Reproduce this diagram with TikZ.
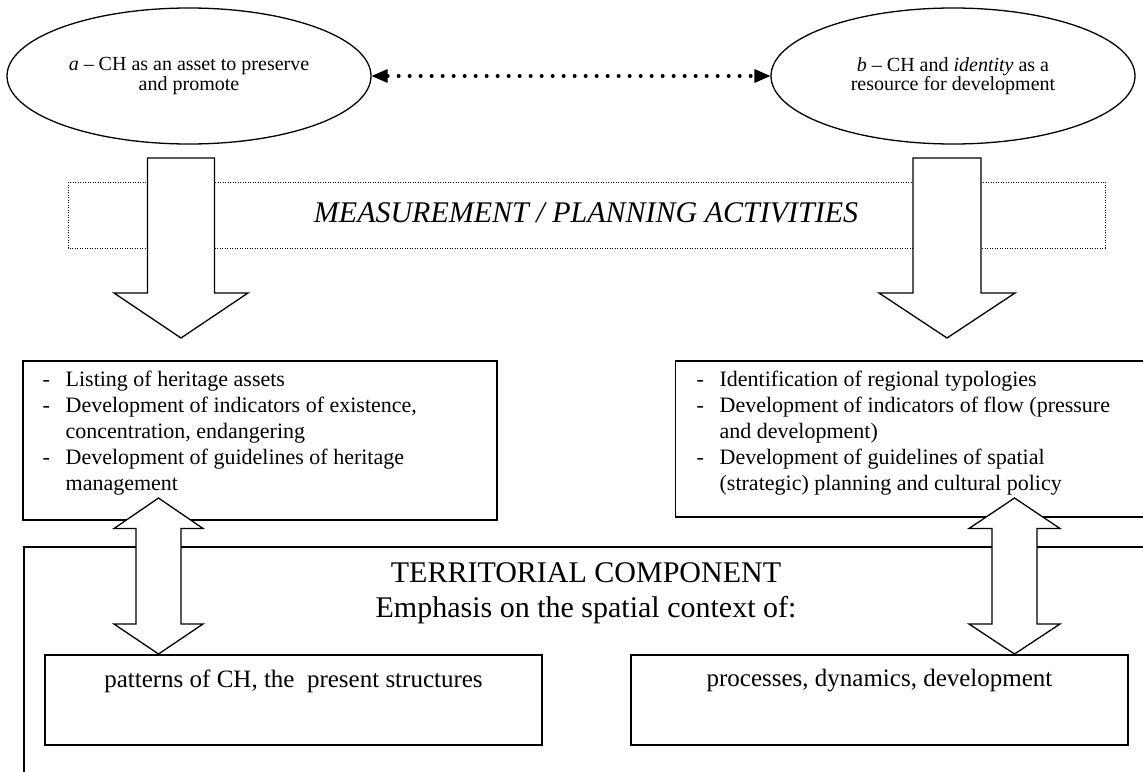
\documentclass[tikz,border=0pt]{standalone}
\usepackage{fontspec}
\setmainfont{Liberation Serif}
\usetikzlibrary{arrows.meta,shapes.geometric}
\begin{document}
\begin{tikzpicture}[x=1pt,y=-1pt,line width=1.3pt,
  oval/.style={draw,ellipse,minimum width=364pt,minimum height=136pt,inner sep=0pt,align=center,font=\fontsize{20}{18}\selectfont},
  bigarrow/.style={draw,fill=white,line width=1.3pt,line join=miter},
  listtext/.style={anchor=north west,inner sep=0pt,font=\fontsize{22}{26}\selectfont},
  boxtext/.style={inner sep=0pt,font=\fontsize{25}{28}\selectfont},
  dotlink/.style={line width=4pt,dash pattern=on 0pt off 11pt,line cap=round,
    {Triangle[length=16pt,width=14pt,line width=0pt]}-{Triangle[length=16pt,width=14pt,line width=0pt]}}
]
\useasboundingbox (0,0) rectangle (1143,771);
\fill[white] (0,0) rectangle (1143,771);

% ellipses
\node[oval] (ea) at (189,76) {\textit{a} -- CH as an asset to preserve\\and promote};
\node[oval] (eb) at (953,76) {\textit{b} -- CH and \textit{identity} as a\\resource for development};
\draw[dotlink] (ea.east) -- (eb.west);

% dotted band
\draw[line width=0.8pt,dash pattern=on 1pt off 1.5pt] (68,182) rectangle (1105,248);
\node[inner sep=0pt,font=\fontsize{30}{34}\selectfont\itshape] (meas) at (586,213) {MEASUREMENT / PLANNING ACTIVITIES};

% down arrows
\draw[bigarrow] (147.5,158) -- (214.5,158) -- (214.5,293) -- (248,293) -- (181,338) -- (114,293) -- (147.5,293) -- cycle;
\draw[bigarrow] (913,158) -- (981,158) -- (981,293) -- (1015,293) -- (947,338) -- (879,293) -- (913,293) -- cycle;

% list boxes
\draw (23,361) rectangle (497,520);
\node[listtext] (lt) at (42,368) {\begin{tabular}{@{}p{23pt}@{}l@{}}
- & Listing of heritage assets\\
- & Development of indicators of existence,\\
  & concentration, endangering\\
- & Development of guidelines of heritage\\
  & management
\end{tabular}};
\draw (1150,361) -- (675.5,361) -- (675.5,517) -- (1150,517);
\node[listtext] (rt) at (696,368) {\begin{tabular}{@{}p{23pt}@{}l@{}}
- & Identification of regional typologies\\
- & Development of indicators of flow (pressure\\
  & and development)\\
- & Development of guidelines of spatial\\
  & (strategic) planning and cultural policy
\end{tabular}};

% territorial component
\draw (24,775) -- (24,547) -- (1150,547);
\node[inner sep=0pt,align=center,font=\fontsize{30}{35}\selectfont] (terr) at (586,593) {TERRITORIAL COMPONENT\\Emphasis on the spatial context of:};

% bottom boxes
\draw (45,655) rectangle (542,745);
\node[boxtext] (bl) at (293.5,681) {patterns of CH, the~ present structures};
\draw (631,655) rectangle (1128,745);
\node[boxtext] (br) at (879.5,681) {processes, dynamics, development};

% double arrows
\draw[bigarrow] (158.5,498) -- (203,528.5) -- (181,528.5) -- (181,624) -- (203,624) -- (158.5,654) -- (114,624) -- (136,624) -- (136,528.5) -- (114,528.5) -- cycle;
\draw[bigarrow] (1014.5,498) -- (1060,528.5) -- (1037,528.5) -- (1037,624) -- (1060,624) -- (1014.5,654) -- (969,624) -- (992,624) -- (992,528.5) -- (969,528.5) -- cycle;
\end{tikzpicture}
\end{document}
